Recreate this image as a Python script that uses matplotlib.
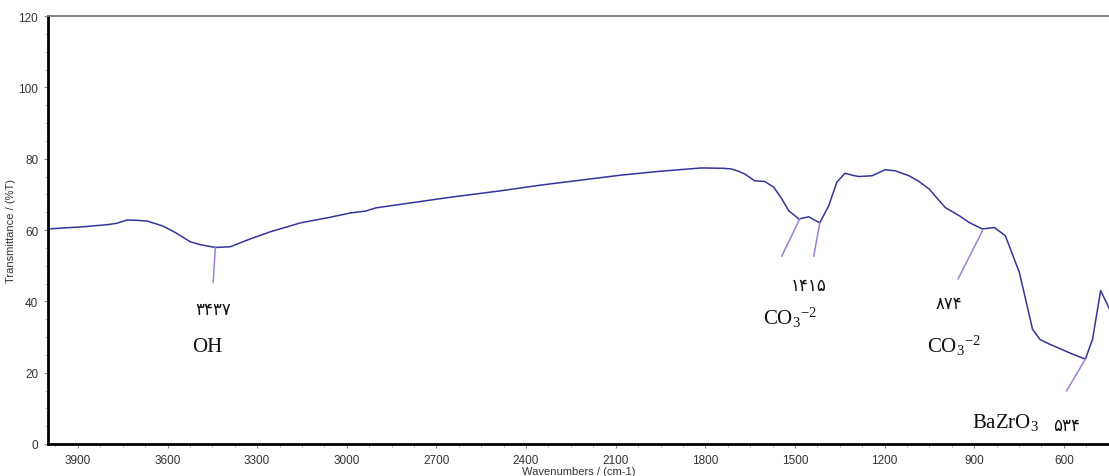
import matplotlib
matplotlib.use("Agg")
import matplotlib.pyplot as plt
from matplotlib.ticker import MultipleLocator

# ---- data ----
wavenumber = [4000, 3883, 3800, 3769, 3736, 3700, 3668, 3615, 3574, 3524, 3491, 3440, 3390, 3323,
              3256, 3155, 3054, 2987, 2937, 2903, 2819, 2652, 2484, 2350, 2215, 2081,
              1947, 1813, 1740, 1712, 1690, 1668, 1635, 1601, 1571, 1544, 1521, 1487, 1454, 1417,
              1387, 1360, 1333, 1300, 1286, 1242, 1199, 1165, 1118, 1085, 1051, 997, 950, 917, 873,
              833, 796, 749, 705, 680, 648, 571, 528, 504, 477, 447]
transmittance = [60.3, 60.9, 61.5, 61.9, 62.8, 62.7, 62.5, 61.1, 59.3, 56.7, 55.9, 55.1, 55.3, 57.5,
                 59.5, 62.0, 63.6, 64.8, 65.3, 66.2, 67.2, 69.2, 71.0, 72.6, 74.0, 75.4,
                 76.5, 77.4, 77.3, 77.1, 76.5, 75.7, 73.8, 73.6, 72.0, 68.7, 65.4, 63.1, 63.7, 62.0,
                 66.8, 73.4, 75.9, 75.2, 75.0, 75.2, 76.9, 76.6, 75.2, 73.6, 71.5, 66.3, 64.0, 62.1, 60.3,
                 60.7, 58.4, 48.1, 32.2, 29.3, 28.0, 25.2, 23.8, 29.4, 43.0, 37.8]

# annotation leader lines: (w_start, T_start, w_end, T_end)
leader_w0 = [3440, 1484, 1417, 873, 528]
leader_t0 = [55.2, 63.1, 62.0, 59.7, 23.8]
leader_w1 = [3447, 1544, 1437, 954, 591]
leader_t1 = [45.4, 52.7, 52.7, 46.3, 14.9]

# labels
label_texts = ["۳۴۳۷", "OH", "۱۴۱۵", r"CO$_3$$^{-2}$", "۸۷۴", r"CO$_3$$^{-2}$", r"BaZrO$_3$", "۵۳۴"]
label_w = [3447, 3467, 1454, 1518, 984, 967, 796, 590]
label_t = [37.6, 27.2, 44.3, 35.6, 39.2, 27.8, 6.2, 5.0]
label_size = [12, 15, 12, 15, 12, 15, 15, 12]

x_ticks = [3900, 3600, 3300, 3000, 2700, 2400, 2100, 1800, 1500, 1200, 900, 600]
y_ticks = [0, 20, 40, 60, 80, 100, 120]

plt.rcParams['mathtext.fontset'] = 'custom'
plt.rcParams['mathtext.rm'] = 'Liberation Serif'
plt.rcParams['mathtext.it'] = 'Liberation Serif:italic'

W, H = 1109, 477
fig = plt.figure(figsize=(W / 100, H / 100), dpi=100)
ax = fig.add_axes([48 / W, (H - 445) / H, (W - 48) / W, (445 - 17) / H])

ax.plot(wavenumber, transmittance, color='#34349e', lw=1.1)

for a, b, c, d in zip(leader_w0, leader_t0, leader_w1, leader_t1):
    ax.plot([a, c], [b, d], color='#a07ed8', lw=1.1)

for txt, w, t, s in zip(label_texts, label_w, label_t, label_size):
    ax.text(w, t, txt, ha='center', va='center', fontsize=s,
            family=['Liberation Serif', 'DejaVu Sans'], color='#111111')

ax.set_xlim(4000, 449)
ax.set_ylim(0, 120)
ax.set_xticks(x_ticks)
ax.set_yticks(y_ticks)
ax.xaxis.set_minor_locator(MultipleLocator(75))
ax.yaxis.set_minor_locator(MultipleLocator(5))

for lab in ax.get_xticklabels() + ax.get_yticklabels():
    lab.set_family('Liberation Sans')
    lab.set_fontsize(8.5)
    lab.set_color('#333333')

ax.tick_params(axis='both', which='major', length=3, width=0.8, color='#888888', pad=4)
ax.tick_params(axis='both', which='minor', length=2, width=0.6, color='#aaaaaa')

ax.spines['right'].set_visible(False)
ax.spines['top'].set_color('#777777')
ax.spines['top'].set_linewidth(1.3)
ax.spines['left'].set_linewidth(2)
ax.spines['bottom'].set_linewidth(2)

ax.set_xlabel('Wavenumbers / (cm-1)', family='Liberation Sans', fontsize=8, color='#333333', labelpad=0)
ax.set_ylabel('Transmittance / (%T)', family='Liberation Sans', fontsize=8, color='#333333', labelpad=2)

fig.savefig('out.png', dpi=100)
